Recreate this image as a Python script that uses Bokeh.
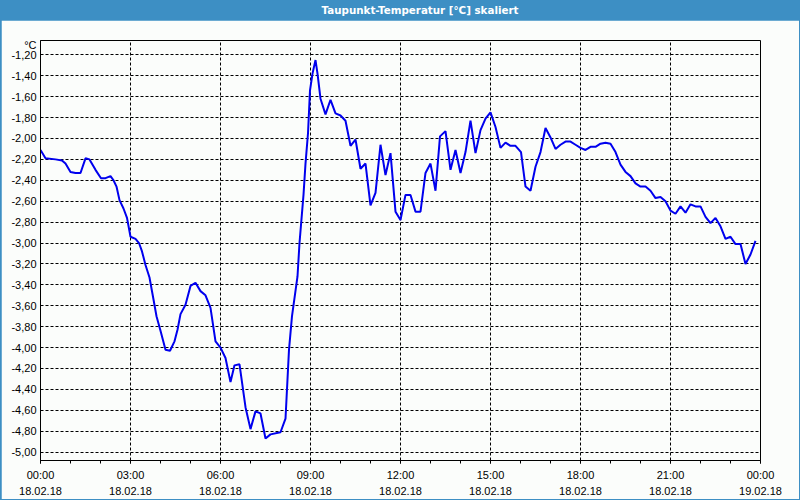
from bokeh.plotting import figure
from bokeh.models import FixedTicker, Div, ColumnDataSource
from bokeh.layouts import column
from bokeh.embed import file_html
from bokeh.resources import INLINE

# minutes since 18.02.18 00:00
minutes = [0, 10, 30, 43, 50, 60, 70, 80, 90, 98, 110, 121, 130, 140, 146, 152, 158, 166, 173,
           180, 190, 197, 203, 210, 218, 226, 232, 240, 250, 259, 268, 274, 280, 290, 300, 310,
           320, 330, 340, 350, 360, 370, 380, 388, 398, 410, 420, 430, 440, 450, 460, 480, 490,
           497, 503, 514, 518, 526, 530, 535, 539, 544, 550, 554, 560, 570, 580, 590, 600, 610,
           620, 630, 640, 650, 660, 670, 680, 690, 700, 710, 720, 730, 740, 750, 760, 770, 780,
           790, 799, 810, 820, 830, 840, 850, 860, 870, 880, 890, 900, 910, 920, 930, 940, 950,
           961, 970, 980, 990, 1000, 1010, 1020, 1030, 1040, 1050, 1060, 1070, 1080, 1090, 1100,
           1110, 1120, 1130, 1140, 1150, 1160, 1170, 1180, 1190, 1200, 1210, 1220, 1230, 1240,
           1250, 1260, 1270, 1280, 1290, 1300, 1310, 1320, 1330, 1340, 1350, 1360, 1370, 1380,
           1390, 1400, 1410, 1420, 1430]
dewpoint = [-2.11, -2.19, -2.20, -2.21, -2.24, -2.32, -2.33, -2.33, -2.19, -2.20, -2.30, -2.38,
            -2.38, -2.36, -2.40, -2.46, -2.59, -2.67, -2.76, -2.94, -2.96, -3.00, -3.08, -3.21,
            -3.33, -3.54, -3.70, -3.84, -4.02, -4.03, -3.94, -3.83, -3.68, -3.59, -3.41, -3.38,
            -3.46, -3.50, -3.62, -3.94, -4.00, -4.10, -4.33, -4.17, -4.16, -4.57, -4.78, -4.61,
            -4.63, -4.87, -4.83, -4.81, -4.68, -4.02, -3.70, -3.32, -3.00, -2.54, -2.24, -1.95,
            -1.54, -1.38, -1.25, -1.38, -1.62, -1.77, -1.63, -1.76, -1.78, -1.83, -2.07, -2.01,
            -2.29, -2.24, -2.64, -2.52, -2.06, -2.35, -2.14, -2.70, -2.78, -2.54, -2.54, -2.70,
            -2.70, -2.33, -2.24, -2.50, -1.98, -1.93, -2.30, -2.11, -2.33, -2.13, -1.83, -2.14,
            -1.92, -1.81, -1.75, -1.89, -2.09, -2.04, -2.07, -2.07, -2.13, -2.46, -2.50, -2.27,
            -2.13, -1.90, -1.99, -2.10, -2.06, -2.03, -2.03, -2.06, -2.09, -2.11, -2.08, -2.08,
            -2.05, -2.04, -2.05, -2.13, -2.25, -2.32, -2.36, -2.43, -2.46, -2.46, -2.50, -2.57,
            -2.56, -2.60, -2.69, -2.72, -2.65, -2.71, -2.63, -2.65, -2.65, -2.75, -2.81, -2.76,
            -2.84, -2.96, -2.94, -3.01, -3.01, -3.20, -3.11, -2.98]

x_ticks = [0, 3, 6, 9, 12, 15, 18, 21, 24]
x_tick_times = ["00:00", "03:00", "06:00", "09:00", "12:00", "15:00", "18:00", "21:00", "00:00"]
x_tick_dates = ["18.02.18"] * 8 + ["19.02.18"]
y_ticks = [-5.0, -4.8, -4.6, -4.4, -4.2, -4.0, -3.8, -3.6, -3.4, -3.2, -3.0, -2.8, -2.6,
           -2.4, -2.2, -2.0, -1.8, -1.6, -1.4, -1.2]
y_tick_labels = ["-5,00", "-4,80", "-4,60", "-4,40", "-4,20", "-4,00", "-3,80", "-3,60",
                 "-3,40", "-3,20", "-3,00", "-2,80", "-2,60", "-2,40", "-2,20", "-2,00",
                 "-1,80", "-1,60", "-1,40", "-1,20"]
unit_pos = -1.11
unit_text = "°C"
title_text = "Taupunkt-Temperatur [°C] skaliert"

BLUE = "#3d8fc4"
BG = "#fbfdfb"
FONT = "Liberation Sans"

hours = [m / 60.0 for m in minutes]
src = ColumnDataSource(dict(x=hours, y=dewpoint))

p = figure(width=798, height=479, x_range=(0, 24), y_range=(-5.08, -1.063),
           output_backend="svg", toolbar_location=None, margin=0,
           min_border_left=39, min_border_right=39, min_border_top=20, min_border_bottom=38)
p.background_fill_color = BG
p.border_fill_color = BG
p.outline_line_color = "black"
p.outline_line_width = 1

p.line("x", "y", source=src, line_color="#0000ee", line_width=2)

xa = p.xaxis[0]
xa.ticker = FixedTicker(ticks=x_ticks, minor_ticks=list(range(25)))
xa.major_label_overrides = {float(t): f"{a}\n{b}" for t, a, b in zip(x_ticks, x_tick_times, x_tick_dates)}
xa.major_tick_in = 0
xa.major_tick_out = 3
xa.minor_tick_in = 0
xa.minor_tick_out = 3
xa.major_label_standoff = 5
xa.major_label_text_font = FONT
xa.major_label_text_font_size = "11px"
xa.major_label_text_color = "black"
xa.major_label_text_line_height = 1.36
xa.axis_line_color = "black"

ya = p.yaxis[0]
ya.ticker = FixedTicker(ticks=y_ticks + [unit_pos], minor_ticks=[])
overrides = {t: l for t, l in zip(y_ticks, y_tick_labels)}
overrides[unit_pos] = unit_text
ya.major_label_overrides = overrides
ya.major_tick_in = 0
ya.major_tick_out = 0
ya.minor_tick_in = 0
ya.minor_tick_out = 0
ya.major_label_standoff = 4
ya.major_label_text_font = FONT
ya.major_label_text_font_size = "11px"
ya.major_label_text_color = "black"
ya.axis_line_color = "black"

p.xgrid.ticker = FixedTicker(ticks=x_ticks)
p.ygrid.ticker = FixedTicker(ticks=y_ticks)
for g in (p.xgrid[0], p.ygrid[0]):
    g.grid_line_color = "black"
    g.grid_line_dash = "3 2"
    g.grid_line_width = 1

title = Div(text=title_text, width=798, height=20, margin=0,
            styles={"color": "white", "font-weight": "bold", "font-family": "DejaVu Sans",
                    "font-size": "10.3px", "line-height": "20px", "text-align": "center",
                    "padding-left": "40px", "box-sizing": "border-box"})

layout = column(title, p, spacing=0, margin=0,
                styles={"background-color": BLUE, "padding": "0px 1px 1px 1px"})

with open("out.html", "w") as f:
    f.write(file_html(layout, INLINE))
